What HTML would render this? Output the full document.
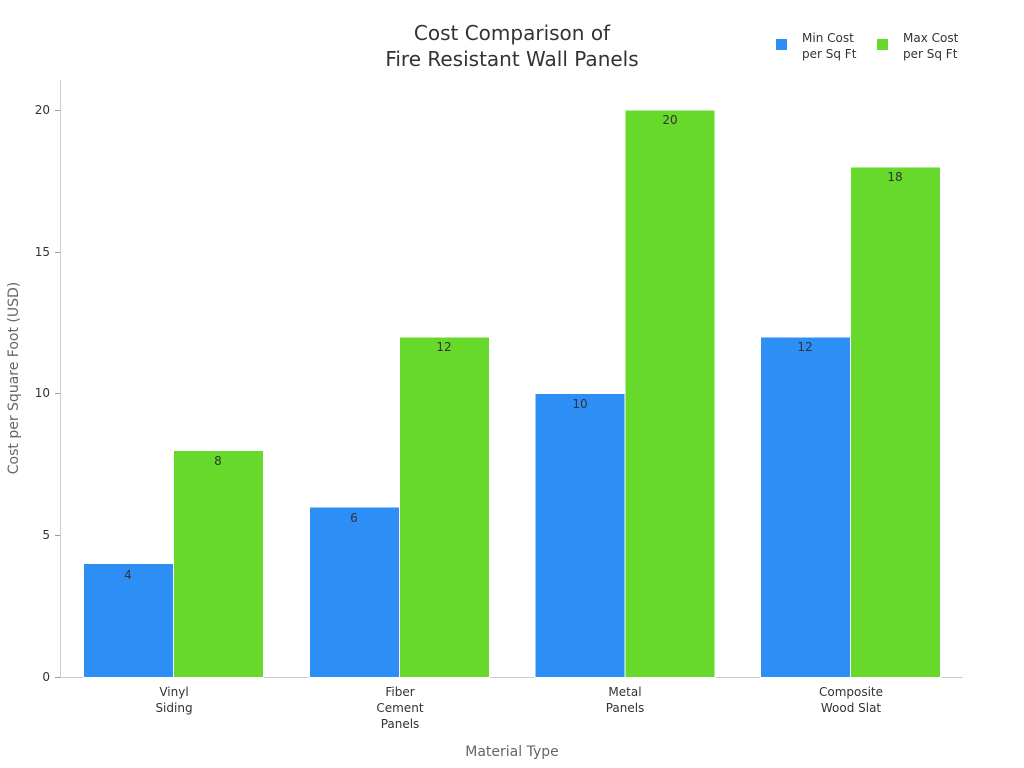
<!DOCTYPE html>
<html><head><meta charset="utf-8"><style>body{margin:0;background:#fff}svg{display:block}text{font-family:"DejaVu Sans","Liberation Sans",sans-serif}</style></head>
<body>
<svg width="1024" height="768" viewBox="0 0 1024 768" xmlns="http://www.w3.org/2000/svg">
<rect width="1024" height="768" fill="#fff"/>
<text x="512" y="40" font-size="20" fill="#333" text-anchor="middle">Cost Comparison of</text>
<text x="512" y="66" font-size="20" fill="#333" text-anchor="middle">Fire Resistant Wall Panels</text>
<rect x="776" y="39" width="11" height="11" fill="#2d8ff5"/>
<text x="802" y="42" font-size="12" fill="#333">Min Cost</text>
<text x="802" y="58" font-size="12" fill="#333">per Sq Ft</text>
<rect x="877" y="39" width="11" height="11" fill="#66d92a"/>
<text x="903" y="42" font-size="12" fill="#333">Max Cost</text>
<text x="903" y="58" font-size="12" fill="#333">per Sq Ft</text>
<line x1="60.5" y1="80" x2="60.5" y2="677" stroke="#ccc"/>
<line x1="60" y1="677.5" x2="963" y2="677.5" stroke="#ccc"/>
<g font-size="12" fill="#333" text-anchor="end">
<text x="50" y="681">0</text><line x1="55" x2="60" y1="677.5" y2="677.5" stroke="#999"/>
<text x="50" y="539">5</text><line x1="55" x2="60" y1="535.5" y2="535.5" stroke="#999"/>
<text x="50" y="397">10</text><line x1="55" x2="60" y1="393.5" y2="393.5" stroke="#999"/>
<text x="50" y="256">15</text><line x1="55" x2="60" y1="252.5" y2="252.5" stroke="#999"/>
<text x="50" y="114">20</text><line x1="55" x2="60" y1="110.5" y2="110.5" stroke="#999"/>
</g>
<g stroke="#fff" stroke-width="1">
<rect x="83.5" y="563.5" width="90" height="114" fill="#2d8ff5"/>
<rect x="173.5" y="450.5" width="90" height="227" fill="#66d92a"/>
<rect x="309.5" y="507" width="90" height="170.5" fill="#2d8ff5"/>
<rect x="399.5" y="337" width="90" height="340.5" fill="#66d92a"/>
<rect x="535" y="393.5" width="90" height="284" fill="#2d8ff5"/>
<rect x="625" y="110" width="90" height="567.5" fill="#66d92a"/>
<rect x="760.5" y="337" width="90" height="340.5" fill="#2d8ff5"/>
<rect x="850.5" y="167" width="90" height="510.5" fill="#66d92a"/>
</g>
<g font-size="12" fill="#333" text-anchor="middle">
<text x="128" y="579">4</text><text x="218" y="465">8</text>
<text x="354" y="522">6</text><text x="444" y="351">12</text>
<text x="580" y="408">10</text><text x="670" y="124">20</text>
<text x="805" y="351">12</text><text x="895" y="181">18</text>
<text x="174" y="696">Vinyl</text><text x="174" y="712">Siding</text>
<text x="400" y="696">Fiber</text><text x="400" y="712">Cement</text><text x="400" y="728">Panels</text>
<text x="625" y="696">Metal</text><text x="625" y="712">Panels</text>
<text x="851" y="696">Composite</text><text x="851" y="712">Wood Slat</text>
</g>
<text x="512" y="756" font-size="14" fill="#666" text-anchor="middle">Material Type</text>
<text transform="translate(18,378) rotate(-90)" font-size="14" fill="#666" text-anchor="middle">Cost per Square Foot (USD)</text>
</svg>
</body></html>
